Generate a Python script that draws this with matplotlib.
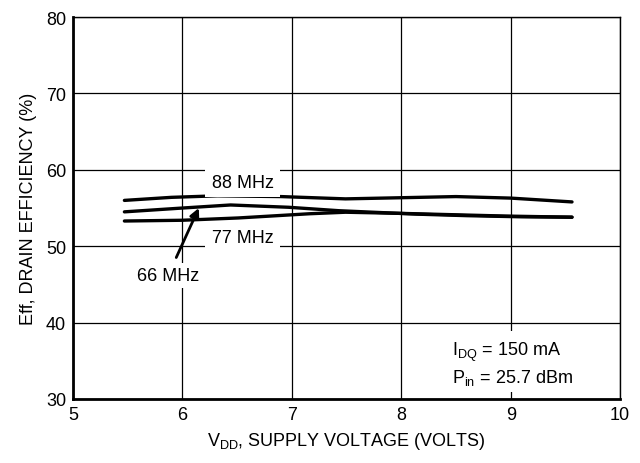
import matplotlib.pyplot as plt

plt.rcParams['font.family'] = ['Liberation Sans', 'DejaVu Sans']
plt.rcParams['font.size'] = 13

# drain efficiency vs supply voltage, one curve per frequency
v_88 = [5.47, 5.9, 6.32, 6.9, 7.49, 8.0, 8.5, 9.0, 9.56]
eff_88 = [56.0, 56.4, 56.6, 56.5, 56.2, 56.35, 56.5, 56.3, 55.8]

v_66 = [5.47, 6.0, 6.44, 6.97, 7.43, 8.14, 8.6, 9.1, 9.56]
eff_66 = [54.5, 55.0, 55.4, 55.1, 54.65, 54.2, 54.0, 53.85, 53.8]

v_77 = [5.47, 6.0, 6.51, 7.16, 7.49, 8.0, 8.95, 9.56]
eff_77 = [53.3, 53.4, 53.7, 54.25, 54.45, 54.3, 53.95, 53.8]

fig, ax = plt.subplots(figsize=(6.4, 4.64), dpi=100)
fig.subplots_adjust(left=0.114, right=0.969, bottom=0.138, top=0.961)

for v, e in [(v_88, eff_88), (v_66, eff_66), (v_77, eff_77)]:
    ax.plot(v, e, color='black', lw=2.4, solid_capstyle='round')

ax.set_xlim(5, 10)
ax.set_ylim(30, 80)
ax.set_xticks(range(5, 11))
ax.set_yticks(range(30, 81, 10))
ax.grid(True, color='black', lw=0.9)
ax.tick_params(length=0, pad=5, labelsize=13)
for side in ['left', 'bottom']:
    ax.spines[side].set_linewidth(2)
for side in ['top', 'right']:
    ax.spines[side].set_linewidth(1)

box = dict(facecolor='white', edgecolor='none', pad=3)
ax.text(6.55, 58.4, '88 MHz', ha='center', va='center', bbox=dict(facecolor='white', edgecolor='none', pad=5))
ax.text(6.55, 51.2, '77 MHz', ha='center', va='center', bbox=dict(facecolor='white', edgecolor='none', pad=5))
ax.annotate('66 MHz', xy=(6.15, 55.0), xytext=(5.87, 46.2), ha='center', va='center',
            bbox=box,
            arrowprops=dict(arrowstyle='-|>', color='black', lw=2, shrinkA=4, shrinkB=0,
                            mutation_scale=14))

ax.text(8.46, 34.7, '$\\mathregular{I_{DQ}}$ = 150 mA\n$\\mathregular{P_{in}}$ = 25.7 dBm',
        ha='left', va='center', linespacing=1.25,
        bbox=dict(facecolor='white', edgecolor='none', pad=4))

ax.set_xlabel('$\\mathregular{V_{DD}}$, SUPPLY VOLTAGE (VOLTS)', fontsize=13, labelpad=5)
ax.set_ylabel('Eff, DRAIN EFFICIENCY (%)', fontsize=13, labelpad=6)

fig.savefig('out.png', dpi=100)
